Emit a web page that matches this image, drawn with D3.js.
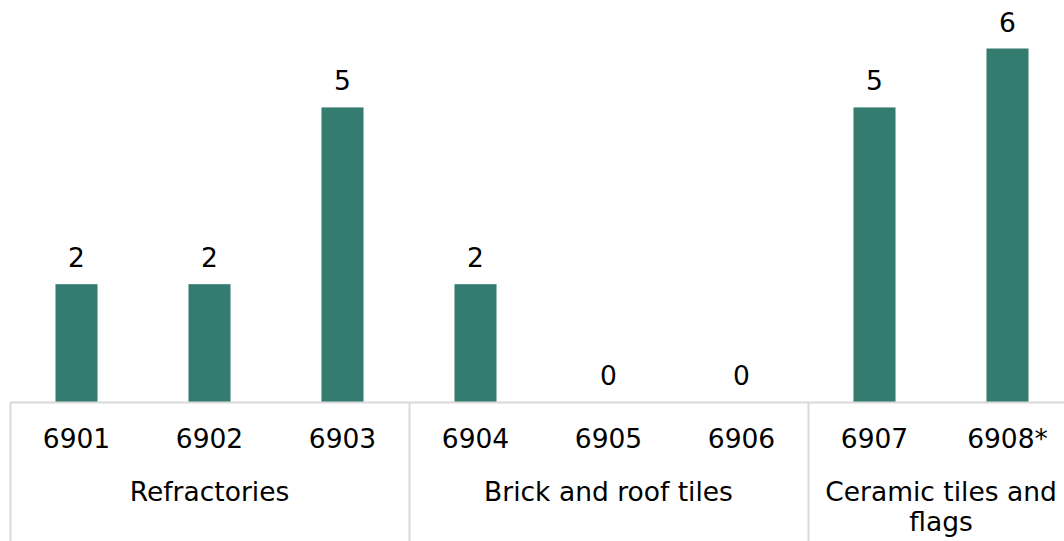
<!DOCTYPE html>
<html>
<head>
<meta charset="utf-8">
<script src="https://cdn.jsdelivr.net/npm/d3@7"></script>
<style>
  html, body { margin: 0; padding: 0; background: #fff; }
  svg { display: block; }
  text { font-family: "DejaVu Sans", Verdana, sans-serif; fill: #000; }
</style>
</head>
<body>
<svg id="chart" width="1064" height="541"></svg>
<script>
// HS codes (categories), their group and the counts shown above each bar
const codes  = ["6901", "6902", "6903", "6904", "6905", "6906", "6907", "6908*"];
const groups = ["Refractories", "Refractories", "Refractories",
                "Brick and roof tiles", "Brick and roof tiles", "Brick and roof tiles",
                "Ceramic tiles and flags", "Ceramic tiles and flags"];
const counts = [2, 2, 5, 2, 0, 0, 5, 6];
const groupNames = ["Refractories", "Brick and roof tiles", "Ceramic tiles and flags"];

const W = 1064, H = 541;
const left = 10, step = 133;
const baseY = 402;
const barColor = "#337c6f";
const gridColor = "#d9d9d9";
const fontSize = 26.5;

const svg = d3.select("#chart");

// Category band scale: fixed step per code, extending past the right edge
const x = d3.scaleBand()
  .domain(codes)
  .range([left, left + step * codes.length])
  .paddingInner(0.684)
  .paddingOuter(0.342);

const y = d3.scaleLinear().domain([0, 6]).range([baseY, 48.5]);

// Bars
svg.append("g").selectAll("rect")
  .data(codes)
  .join("rect")
  .attr("x", (d) => x(d))
  .attr("width", x.bandwidth())
  .attr("y", (d, i) => y(counts[i]))
  .attr("height", (d, i) => baseY - y(counts[i]))
  .attr("fill", barColor);

// Value labels
svg.append("g").selectAll("text")
  .data(codes)
  .join("text")
  .attr("x", (d) => x(d) + x.bandwidth() / 2)
  .attr("y", (d, i) => y(counts[i]) - 17)
  .attr("text-anchor", "middle")
  .attr("font-size", fontSize)
  .text((d, i) => counts[i]);

// Category axis line
svg.append("line")
  .attr("x1", left).attr("x2", W)
  .attr("y1", baseY + 0.5).attr("y2", baseY + 0.5)
  .attr("stroke", gridColor).attr("stroke-width", 2);

// Group spans on the axis
const spans = groupNames.map((g) => {
  const members = codes.filter((c, i) => groups[i] === g);
  const x0 = x(members[0]) - x.step() * x.paddingInner() / 2;
  const x1 = x(members[members.length - 1]) + x.bandwidth() + x.step() * x.paddingInner() / 2;
  return { name: g, x0, x1 };
});

// Divider lines between groups
const dividers = [spans[0].x0].concat(spans.map((s) => s.x1));
svg.append("g").selectAll("line")
  .data(dividers)
  .join("line")
  .attr("x1", (d) => Math.round(d) + 0.5).attr("x2", (d) => Math.round(d) + 0.5)
  .attr("y1", baseY).attr("y2", H)
  .attr("stroke", gridColor).attr("stroke-width", 2);

// Code tick labels
svg.append("g").selectAll("text")
  .data(codes)
  .join("text")
  .attr("x", (d) => x(d) + x.bandwidth() / 2)
  .attr("y", 448)
  .attr("text-anchor", "middle")
  .attr("font-size", fontSize)
  .text((d) => d);

// Group labels, wrapped to the visible width of each group
const groupText = svg.append("g").selectAll("text")
  .data(spans)
  .join("text")
  .attr("x", (d) => (d.x0 + d.x1) / 2)
  .attr("y", 501)
  .attr("text-anchor", "middle")
  .attr("font-size", fontSize);

groupText.each(function (d) {
  const el = d3.select(this);
  const maxW = Math.min(d.x1, W) - d.x0 - 14;
  const words = d.name.split(" ");
  let line = [];
  let tspan = el.append("tspan").attr("x", (d.x0 + d.x1) / 2).attr("dy", 0);
  words.forEach((w) => {
    line.push(w);
    tspan.text(line.join(" "));
    if (tspan.node().getComputedTextLength() > maxW && line.length > 1) {
      line.pop();
      tspan.text(line.join(" "));
      line = [w];
      tspan = el.append("tspan")
        .attr("x", (d.x0 + d.x1) / 2)
        .attr("dy", 30)
        .text(w);
    }
  });
});
</script>
</body>
</html>
